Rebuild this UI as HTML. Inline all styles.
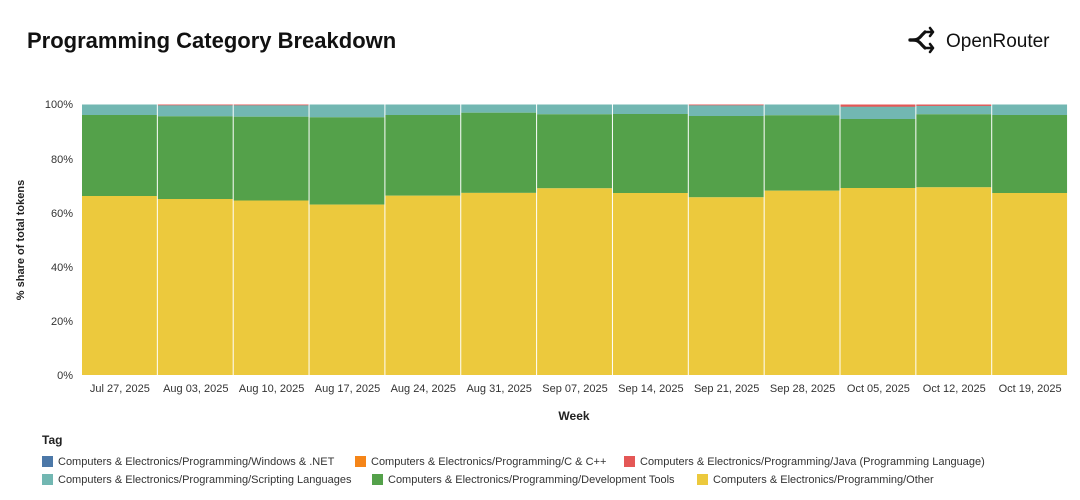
<!DOCTYPE html>
<html><head><meta charset="utf-8"><style>
body{margin:0;background:#fff;width:1080px;height:495px;overflow:hidden;font-family:"Liberation Sans",sans-serif}
</style></head><body>
<svg width="1080" height="495" xmlns="http://www.w3.org/2000/svg" font-family="Liberation Sans, sans-serif">
<text x="27" y="48" font-size="22" font-weight="bold" fill="#111">Programming Category Breakdown</text>
<g transform="translate(908,30)" fill="none" stroke="#111" stroke-width="3.2" stroke-linecap="round" stroke-linejoin="round">
<path d="M2 10 C8 10 10 10 14 5 L17 2"/><path d="M2 10 C8 10 10 10 14 15 L17 18"/>
<path d="M18 2 L25 2 L22 -2 M25 2 L22 6" stroke-width="2.5"/><path d="M18 18 L25 18 L22 14 M25 18 L22 22" stroke-width="2.5"/>
</g>
<text x="946" y="47" font-size="19" fill="#111">OpenRouter</text>
<g font-size="11" fill="#333" text-anchor="end">
<text x="73" y="108">100%</text><text x="73" y="163">80%</text><text x="73" y="217">60%</text><text x="73" y="271">40%</text><text x="73" y="325">20%</text><text x="73" y="379">0%</text>
</g>
<text transform="translate(24,240) rotate(-90)" font-size="11" font-weight="bold" fill="#222" text-anchor="middle">% share of total tokens</text>
<g id="bars">
<rect x="82" y="104.5" width="74.85" height="10.5" fill="#72B7B2"/><rect x="82" y="115" width="74.85" height="81" fill="#54A14A"/><rect x="82" y="196" width="74.85" height="179" fill="#ECC93D"/>
<rect x="157.85" y="104.5" width="74.85" height="11.8" fill="#72B7B2"/><rect x="157.85" y="116.3" width="74.85" height="82.7" fill="#54A14A"/><rect x="157.85" y="199" width="74.85" height="176" fill="#ECC93D"/><rect x="157.85" y="104.5" width="74.85" height="0.8" fill="#E45756"/>
<rect x="233.7" y="104.5" width="74.85" height="12.2" fill="#72B7B2"/><rect x="233.7" y="116.7" width="74.85" height="83.8" fill="#54A14A"/><rect x="233.7" y="200.5" width="74.85" height="174.5" fill="#ECC93D"/><rect x="233.7" y="104.5" width="74.85" height="0.8" fill="#E45756"/>
<rect x="309.55" y="104.5" width="74.85" height="12.8" fill="#72B7B2"/><rect x="309.55" y="117.3" width="74.85" height="87.3" fill="#54A14A"/><rect x="309.55" y="204.6" width="74.85" height="170.4" fill="#ECC93D"/>
<rect x="385.4" y="104.5" width="74.85" height="10.5" fill="#72B7B2"/><rect x="385.4" y="115" width="74.85" height="80.7" fill="#54A14A"/><rect x="385.4" y="195.7" width="74.85" height="179.3" fill="#ECC93D"/>
<rect x="461.25" y="104.5" width="74.85" height="8.2" fill="#72B7B2"/><rect x="461.25" y="112.7" width="74.85" height="80.2" fill="#54A14A"/><rect x="461.25" y="192.9" width="74.85" height="182.1" fill="#ECC93D"/>
<rect x="537.1" y="104.5" width="74.85" height="9.8" fill="#72B7B2"/><rect x="537.1" y="114.3" width="74.85" height="74" fill="#54A14A"/><rect x="537.1" y="188.3" width="74.85" height="186.7" fill="#ECC93D"/>
<rect x="612.95" y="104.5" width="74.85" height="9.5" fill="#72B7B2"/><rect x="612.95" y="114" width="74.85" height="79" fill="#54A14A"/><rect x="612.95" y="193" width="74.85" height="182" fill="#ECC93D"/>
<rect x="688.8" y="104.5" width="74.85" height="11.5" fill="#72B7B2"/><rect x="688.8" y="116" width="74.85" height="81.3" fill="#54A14A"/><rect x="688.8" y="197.3" width="74.85" height="177.7" fill="#ECC93D"/><rect x="688.8" y="104.5" width="74.85" height="0.8" fill="#E45756"/>
<rect x="764.65" y="104.5" width="74.85" height="10.8" fill="#72B7B2"/><rect x="764.65" y="115.3" width="74.85" height="75.4" fill="#54A14A"/><rect x="764.65" y="190.7" width="74.85" height="184.3" fill="#ECC93D"/>
<rect x="840.5" y="104.5" width="74.85" height="14.5" fill="#72B7B2"/><rect x="840.5" y="119" width="74.85" height="69" fill="#54A14A"/><rect x="840.5" y="188" width="74.85" height="187" fill="#ECC93D"/><rect x="840.5" y="104.5" width="74.85" height="2.2" fill="#E45756"/>
<rect x="916.35" y="104.5" width="74.85" height="9.8" fill="#72B7B2"/><rect x="916.35" y="114.3" width="74.85" height="73" fill="#54A14A"/><rect x="916.35" y="187.3" width="74.85" height="187.7" fill="#ECC93D"/><rect x="916.35" y="104.5" width="74.85" height="1.4" fill="#E45756"/>
<rect x="992.2" y="104.5" width="74.85" height="10.5" fill="#72B7B2"/><rect x="992.2" y="115" width="74.85" height="78" fill="#54A14A"/><rect x="992.2" y="193" width="74.85" height="182" fill="#ECC93D"/>
</g>
<g font-size="11" fill="#333" text-anchor="middle">
<text x="119.9" y="392">Jul 27, 2025</text><text x="195.8" y="392">Aug 03, 2025</text><text x="271.6" y="392">Aug 10, 2025</text><text x="347.5" y="392">Aug 17, 2025</text><text x="423.3" y="392">Aug 24, 2025</text><text x="499.2" y="392">Aug 31, 2025</text><text x="575" y="392">Sep 07, 2025</text><text x="650.9" y="392">Sep 14, 2025</text><text x="726.7" y="392">Sep 21, 2025</text><text x="802.6" y="392">Sep 28, 2025</text><text x="878.4" y="392">Oct 05, 2025</text><text x="954.3" y="392">Oct 12, 2025</text><text x="1030.1" y="392">Oct 19, 2025</text>
</g>
<text x="574" y="420" font-size="12" font-weight="bold" fill="#222" text-anchor="middle">Week</text>
<text x="42" y="444" font-size="12" font-weight="bold" fill="#222">Tag</text>
<g font-size="11" fill="#333">
<rect x="42" y="456" width="11" height="11" fill="#4C78A8"/><text x="58" y="465">Computers &amp; Electronics/Programming/Windows &amp; .NET</text>
<rect x="355" y="456" width="11" height="11" fill="#F58518"/><text x="371" y="465">Computers &amp; Electronics/Programming/C &amp; C++</text>
<rect x="624" y="456" width="11" height="11" fill="#E45756"/><text x="640" y="465">Computers &amp; Electronics/Programming/Java (Programming Language)</text>
<rect x="42" y="474" width="11" height="11" fill="#72B7B2"/><text x="58" y="483">Computers &amp; Electronics/Programming/Scripting Languages</text>
<rect x="372" y="474" width="11" height="11" fill="#54A14A"/><text x="388" y="483">Computers &amp; Electronics/Programming/Development Tools</text>
<rect x="697" y="474" width="11" height="11" fill="#ECC93D"/><text x="713" y="483">Computers &amp; Electronics/Programming/Other</text>
</g>
</svg>
</body></html>
